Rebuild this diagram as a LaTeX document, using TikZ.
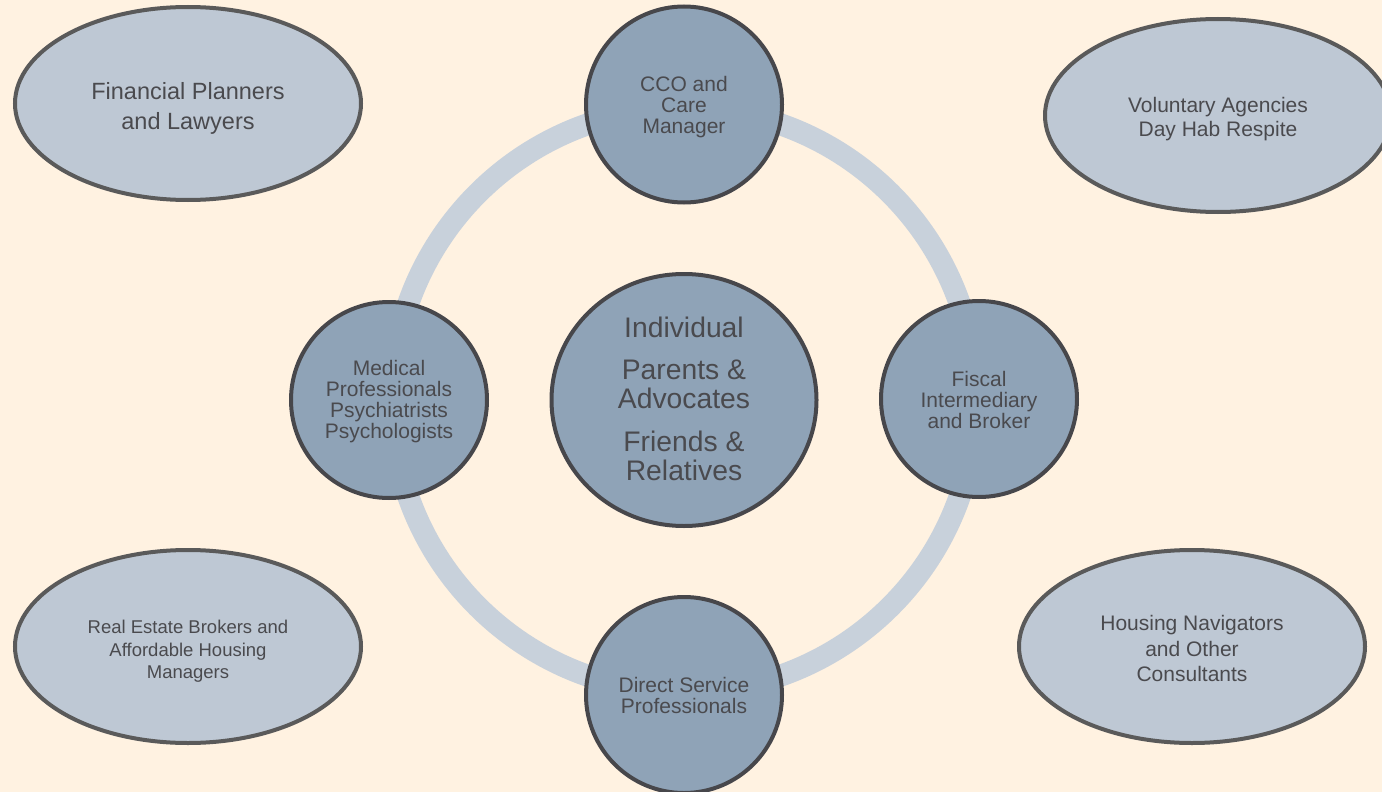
\documentclass[tikz,border=0pt]{standalone}
\usepackage{fontspec}
\setmainfont{Liberation Sans}
\usetikzlibrary{shapes.geometric}
\definecolor{bg}{HTML}{FFF2E1}
\definecolor{ringc}{HTML}{C8D1DB}
\definecolor{circFill}{HTML}{8FA3B7}
\definecolor{circEdge}{HTML}{47474B}
\definecolor{ellFill}{HTML}{BEC8D4}
\definecolor{ellEdge}{HTML}{5A5A5A}
\definecolor{txt}{HTML}{4A4A4E}
\begin{document}
\begin{tikzpicture}[x=1pt,y=-1pt,
  hub/.style={circle, draw=circEdge, line width=4pt, fill=circFill,
    minimum size=196pt, inner sep=0pt},
  core/.style={ellipse, draw=circEdge, line width=4pt, fill=circFill,
    minimum width=265pt, minimum height=252pt, inner sep=0pt},
  outer/.style={ellipse, draw=ellEdge, line width=4pt, fill=ellFill,
    minimum width=346pt, minimum height=193pt, inner sep=0pt},
  lbl/.style={align=center, text=txt, inner sep=0pt},
  hubtext/.style={lbl, font=\fontsize{21}{21}\selectfont},
  ringline/.style={draw=ringc, line width=22pt}]
\useasboundingbox (0,0) rectangle (1382,792);
\clip (0,0) rectangle (1382,792);
\fill[bg] (0,0) rectangle (1382,792);
\coordinate (ringc) at (684,400);
\draw[ringline] (ringc) circle[radius=292pt];

\node[core, label={[lbl, font=\fontsize{28.3}{29}\selectfont, yshift=1.5pt]center:Individual\\[13.5pt]Parents \&\\Advocates\\[13.5pt]Friends \&\\Relatives}] (center) at (684,400) {};
\node[hub, label={[hubtext, yshift=-2.5pt]center:CCO and\\Care\\Manager}] (cco) at (684,104.5) {};
\node[hub, label={[hubtext, yshift=-2pt]center:Medical\\Professionals\\Psychiatrists\\Psychologists}] (med) at (389,400) {};
\node[hub, label={[hubtext, yshift=-0.5pt]center:Fiscal\\Intermediary\\and Broker}] (fiscal) at (979,399) {};
\node[hub, label={[hubtext]center:Direct Service\\Professionals}] (dsp) at (684,695) {};

\node[outer, label={[lbl, font=\fontsize{23.5}{30}\selectfont, yshift=-5pt]center:Financial Planners\\and Lawyers}] (fin) at (188,103.5) {};
\node[outer, label={[lbl, font=\fontsize{21}{23.5}\selectfont, yshift=-3.5pt]center:Voluntary Agencies\\Day Hab Respite}] (vol) at (1218,115.5) {};
\node[outer, label={[lbl, font=\fontsize{18.5}{22.3}\selectfont, yshift=-5pt]center:Real Estate Brokers and\\Affordable Housing\\Managers}] (re) at (188,646.5) {};
\node[outer, label={[lbl, font=\fontsize{21}{25.5}\selectfont, yshift=-2pt]center:Housing Navigators\\and Other\\Consultants}] (hous) at (1192,646.5) {};
\end{tikzpicture}
\end{document}
